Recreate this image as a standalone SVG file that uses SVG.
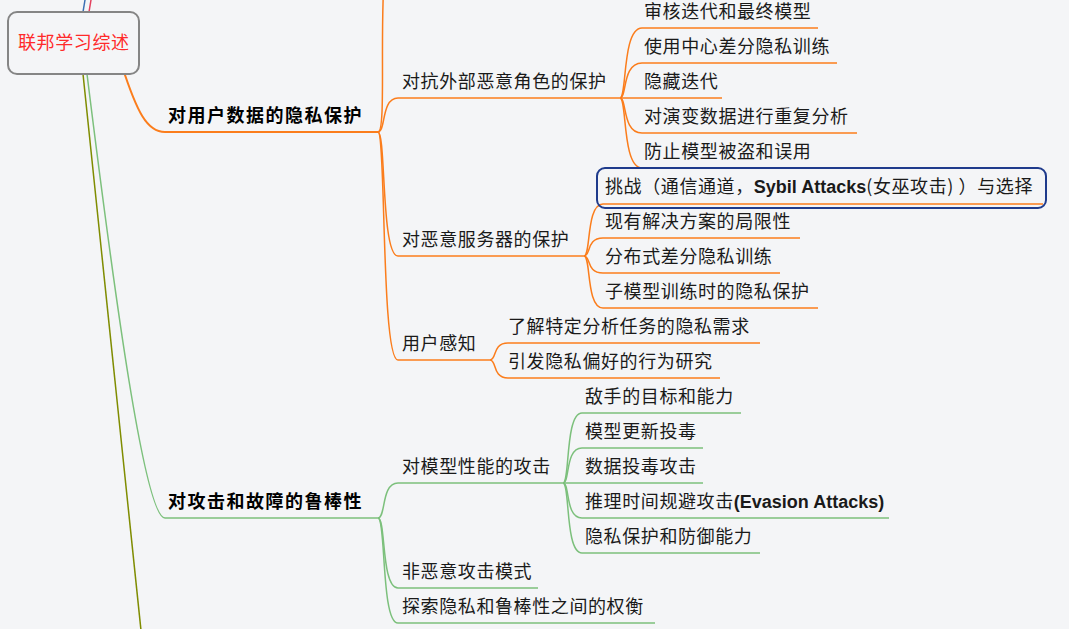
<svg xmlns="http://www.w3.org/2000/svg" width="1069" height="629" viewBox="0 0 1069 629">
<style>
text{font-family:"Noto Sans CJK SC","Liberation Sans",sans-serif;font-size:18px;letter-spacing:0.6px;fill:#1a1a1a}
.lat{font-family:"Liberation Sans","Noto Sans CJK SC",sans-serif;font-weight:bold;letter-spacing:0}
.main{font-weight:bold;letter-spacing:1.5px;fill:#000}
.o{fill:none;stroke:#fb7d1c;stroke-width:1.5}
.o2{fill:none;stroke:#fb7d1c;stroke-width:2}
.g{fill:none;stroke:#7cc07c;stroke-width:1.5}
.g2{fill:none;stroke:#7cc07c;stroke-width:2}
</style>
<rect width="1069" height="629" fill="#f4f5f7"/>
<g id="connectors">
<line x1="83" y1="12" x2="85" y2="0" stroke="#3b6fb3" stroke-width="1.5"/>
<line x1="89" y1="12" x2="91" y2="0" stroke="#e3405e" stroke-width="1.5"/>
<line x1="83" y1="74" x2="142" y2="640" stroke="#7f8c00" stroke-width="1.5"/>
<path class="g" d="M87,74 C115,300 145,518 165,518 H378"/>
<path class="o2" d="M122,66 C137,112 147,132 165,132 H378"/>
<path class="o" d="M378,132 C386,132 380,40 384,-20"/>
<path class="o" d="M378,132 C386,132 381,98 398,98 H620"/>
<path class="o" d="M378,132 C386,132 381,256 398,256 H584"/>
<path class="o" d="M378,132 C386,132 381,360 398,360 H490"/>
<path class="o" d="M620,98 C627,98 622,28 642,28 H818"/>
<path class="o" d="M620,98 C627,98 622,63 642,63 H837"/>
<path class="o" d="M620,98 H722"/>
<path class="o" d="M620,98 C627,98 622,133 642,133 H857"/>
<path class="o" d="M620,98 C627,98 622,168 642,168 H818"/>
<path class="o" d="M584,256 C591,256 586,204 603,204 H1043"/>
<path class="o" d="M584,256 C591,256 586,238 603,238 H800"/>
<path class="o" d="M584,256 C591,256 586,273 603,273 H780"/>
<path class="o" d="M584,256 C591,256 586,308 603,308 H818"/>
<path class="o" d="M490,360 C497,360 492,343 508,343 H760"/>
<path class="o" d="M490,360 C497,360 492,378 508,378 H720"/>
<path class="g" d="M378,518 C386,518 381,483 398,483 H563"/>
<path class="g" d="M378,518 C386,518 381,588 398,588 H538"/>
<path class="g" d="M378,518 C386,518 381,623 398,623 H655"/>
<path class="g" d="M563,483 C570,483 565,413 582,413 H741"/>
<path class="g" d="M563,483 C570,483 565,448 582,448 H703"/>
<path class="g" d="M563,483 H703"/>
<path class="g" d="M563,483 C570,483 565,518 582,518 H889"/>
<path class="g" d="M563,483 C570,483 565,553 582,553 H760"/>
</g>
<g id="root">
<rect x="8" y="12" width="131" height="62" rx="9" fill="#f4f5f7" stroke="#858585" stroke-width="2"/>
<text x="18" y="49" style="fill:#ff2a2a">联邦学习综述</text>
</g>
<g id="n-privacy"><text class="main" x="168" y="122">对用户数据的隐私保护</text></g>
<g id="n-external"><text x="402" y="88">对抗外部恶意角色的保护</text></g>
<g id="n-e1"><text x="644" y="18">审核迭代和最终模型</text></g>
<g id="n-e2"><text x="644" y="53">使用中心差分隐私训练</text></g>
<g id="n-e3"><text x="644" y="88">隐藏迭代</text></g>
<g id="n-e4"><text x="644" y="123">对演变数据进行重复分析</text></g>
<g id="n-e5"><text x="644" y="158">防止模型被盗和误用</text></g>
<g id="n-server"><text x="402" y="246">对恶意服务器的保护</text></g>
<g id="n-s1">
<rect x="597" y="168" width="449" height="40" rx="8" fill="none" stroke="#1f3b8c" stroke-width="2"/>
<text x="605" y="193">挑战（通信通道，<tspan class="lat">Sybil Attacks</tspan>(女巫攻击) ）与选择</text>
</g>
<g id="n-s2"><text x="605" y="228">现有解决方案的局限性</text></g>
<g id="n-s3"><text x="605" y="263">分布式差分隐私训练</text></g>
<g id="n-s4"><text x="605" y="298">子模型训练时的隐私保护</text></g>
<g id="n-user"><text x="402" y="350">用户感知</text></g>
<g id="n-u1"><text x="508" y="333">了解特定分析任务的隐私需求</text></g>
<g id="n-u2"><text x="508" y="368">引发隐私偏好的行为研究</text></g>
<g id="n-robust"><text class="main" x="168" y="508">对攻击和故障的鲁棒性</text></g>
<g id="n-attack"><text x="402" y="473">对模型性能的攻击</text></g>
<g id="n-a1"><text x="585" y="403">敌手的目标和能力</text></g>
<g id="n-a2"><text x="585" y="438">模型更新投毒</text></g>
<g id="n-a3"><text x="585" y="473">数据投毒攻击</text></g>
<g id="n-a4"><text x="585" y="508">推理时间规避攻击<tspan class="lat">(Evasion Attacks)</tspan></text></g>
<g id="n-a5"><text x="585" y="543">隐私保护和防御能力</text></g>
<g id="n-nonmal"><text x="402" y="578">非恶意攻击模式</text></g>
<g id="n-tradeoff"><text x="402" y="613">探索隐私和鲁棒性之间的权衡</text></g>
</svg>
